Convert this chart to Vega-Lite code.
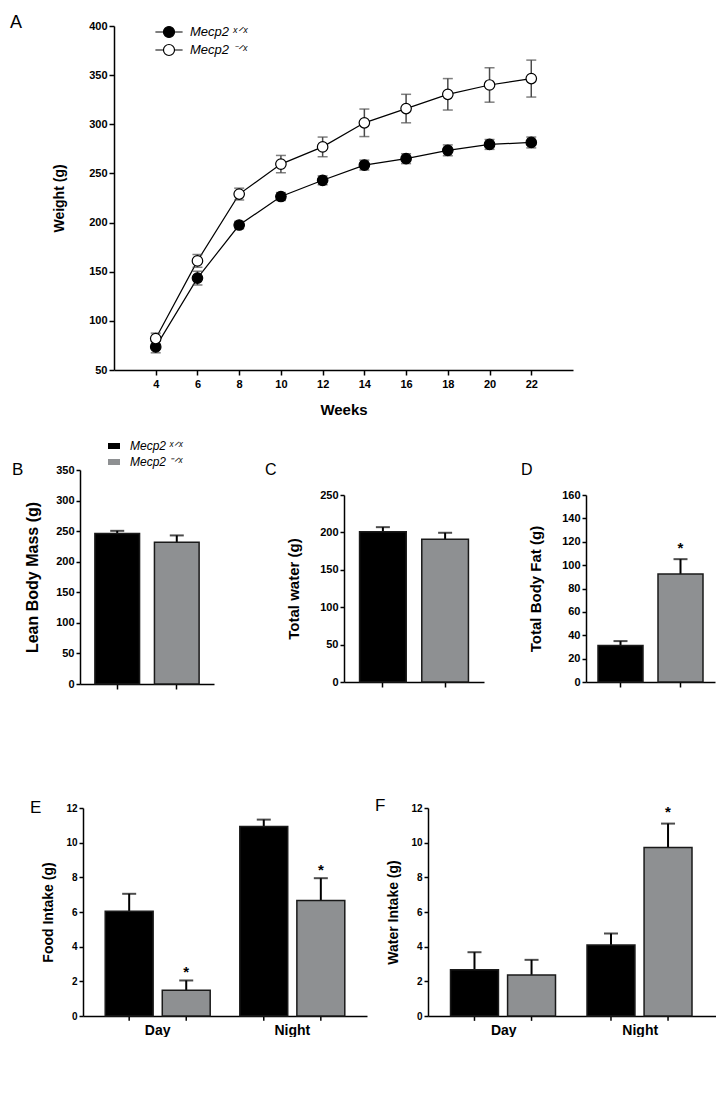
{
  "$schema": "https://vega.github.io/schema/vega-lite/v6.json",
  "background": "white",
  "padding": {"top": 14, "left": 0, "right": 0, "bottom": 0},
  "config": {
    "view": {"stroke": null},
    "font": "Liberation Sans",
    "axis": {"grid": false, "domainColor": "black", "tickColor": "black", "labelColor": "black", "titleColor": "black", "labelFont": "Liberation Sans", "titleFont": "Liberation Sans", "labelFontWeight": "bold", "titleFontWeight": "bold", "domainWidth": 1.5, "tickWidth": 1.5, "labelOverlap": false},
    "title": {"font": "Liberation Sans", "color": "black", "fontWeight": "normal", "subtitleColor": "black", "subtitleFont": "Liberation Sans", "subtitleFontWeight": "normal"},
    "legend": {"labelColor": "black", "labelFont": "Liberation Sans"}
  },
  "datasets": {
    "weights": [
      {"week": 4, "genotype": "x/x", "mean": 73.5, "sem": 6},
      {"week": 6, "genotype": "x/x", "mean": 143.5, "sem": 7},
      {"week": 8, "genotype": "x/x", "mean": 197.5, "sem": 3.7},
      {"week": 10, "genotype": "x/x", "mean": 226.5, "sem": 4},
      {"week": 12, "genotype": "x/x", "mean": 243, "sem": 4.5},
      {"week": 14, "genotype": "x/x", "mean": 258.5, "sem": 5},
      {"week": 16, "genotype": "x/x", "mean": 265, "sem": 5},
      {"week": 18, "genotype": "x/x", "mean": 273.5, "sem": 5.5},
      {"week": 20, "genotype": "x/x", "mean": 279.5, "sem": 5},
      {"week": 22, "genotype": "x/x", "mean": 281.5, "sem": 5.5},
      {"week": 4, "genotype": "-/x", "mean": 82, "sem": 5.5},
      {"week": 6, "genotype": "-/x", "mean": 161, "sem": 6.5},
      {"week": 8, "genotype": "-/x", "mean": 229, "sem": 6},
      {"week": 10, "genotype": "-/x", "mean": 259.5, "sem": 8.8},
      {"week": 12, "genotype": "-/x", "mean": 277, "sem": 10},
      {"week": 14, "genotype": "-/x", "mean": 301.5, "sem": 14},
      {"week": 16, "genotype": "-/x", "mean": 316, "sem": 14.5},
      {"week": 18, "genotype": "-/x", "mean": 330.5, "sem": 16},
      {"week": 20, "genotype": "-/x", "mean": 340, "sem": 17.5},
      {"week": 22, "genotype": "-/x", "mean": 346.5, "sem": 18.8}
    ],
    "lean": [
      {"genotype": "x/x", "mean": 246, "hi": 250.5, "sig": ""},
      {"genotype": "-/x", "mean": 232, "hi": 243, "sig": ""}
    ],
    "water": [
      {"genotype": "x/x", "mean": 201, "hi": 207, "sig": ""},
      {"genotype": "-/x", "mean": 191, "hi": 199.5, "sig": ""}
    ],
    "fat": [
      {"genotype": "x/x", "mean": 31.3, "hi": 35, "sig": ""},
      {"genotype": "-/x", "mean": 92.3, "hi": 105.1, "sig": "*"}
    ],
    "food": [
      {"period": "Day", "genotype": "x/x", "mean": 6.05, "hi": 7.05, "sig": ""},
      {"period": "Day", "genotype": "-/x", "mean": 1.48, "hi": 2.05, "sig": "*"},
      {"period": "Night", "genotype": "x/x", "mean": 10.93, "hi": 11.33, "sig": ""},
      {"period": "Night", "genotype": "-/x", "mean": 6.66, "hi": 7.95, "sig": "*"}
    ],
    "drink": [
      {"period": "Day", "genotype": "x/x", "mean": 2.67, "hi": 3.68, "sig": ""},
      {"period": "Day", "genotype": "-/x", "mean": 2.37, "hi": 3.24, "sig": ""},
      {"period": "Night", "genotype": "x/x", "mean": 4.09, "hi": 4.76, "sig": ""},
      {"period": "Night", "genotype": "-/x", "mean": 9.72, "hi": 11.1, "sig": "*"}
    ],
    "blank": [{"k": 0}]
  },
  "resolve": {"scale": {"fill": "independent"}},
  "spacing": 21,
  "vconcat": [
    {
      "concat": [
        {"width": 1, "height": 1, "data": {"name": "blank"}, "mark": {"type": "point", "opacity": 0, "size": 1, "strokeWidth": 0}, "encoding": {}},
        {
          "width": 459,
          "height": 344,
          "data": {"name": "weights"},
          "title": {"text": "A", "anchor": "start", "frame": "group", "dx": -104, "offset": -12, "fontSize": 18},
          "encoding": {
            "x": {"field": "week", "type": "quantitative", "scale": {"domain": [2, 24], "nice": false, "zero": false},
              "axis": {"values": [4, 6, 8, 10, 12, 14, 16, 18, 20, 22], "title": "Weeks", "titleFontSize": 15, "labelFontSize": 11, "tickSize": 5, "labelPadding": 3, "titlePadding": 13, "labelOverlap": false}}
          },
          "layer": [
            {
              "mark": {"type": "line", "color": "black", "strokeWidth": 1.2},
              "encoding": {
                "y": {"field": "mean", "type": "quantitative", "scale": {"domain": [50, 400], "nice": false, "zero": false},
                  "axis": {"values": [50, 100, 150, 200, 250, 300, 350, 400], "title": "Weight (g)", "titleFontSize": 14, "labelFontSize": 11, "tickSize": 5, "labelPadding": 2, "titlePadding": 22, "labelOverlap": false}},
                "detail": {"field": "genotype"}
              }
            },
            {
              "mark": {"type": "errorbar", "color": "#4a4a4a", "thickness": 1.5, "ticks": {"size": 10}},
              "encoding": {
                "y": {"field": "mean", "type": "quantitative", "title": "Weight (g)",
                  "axis": {"values": [50, 100, 150, 200, 250, 300, 350, 400], "title": "Weight (g)", "titleFontSize": 14, "labelFontSize": 11, "tickSize": 5, "labelPadding": 2, "titlePadding": 22, "labelOverlap": false}},
                "yError": {"field": "sem"},
                "detail": {"field": "genotype"}
              }
            },
            {
              "mark": {"type": "point", "shape": "circle", "filled": true, "size": 110, "stroke": "black", "strokeWidth": 1.2, "opacity": 1},
              "encoding": {
                "y": {"field": "mean", "type": "quantitative", "title": "Weight (g)",
                  "axis": {"values": [50, 100, 150, 200, 250, 300, 350, 400], "title": "Weight (g)", "titleFontSize": 14, "labelFontSize": 11, "tickSize": 5, "labelPadding": 2, "titlePadding": 22, "labelOverlap": false}},
                "fill": {"field": "genotype", "type": "nominal", "scale": {"domain": ["x/x", "-/x"], "range": ["black", "white"]},
                  "legend": {"orient": "none", "legendX": 46, "legendY": -3, "title": null, "padding": 0,
                    "symbolType": "M-1.7,0H-0.69M0.69,0H1.7M0.69,0A0.69,0.69,0,1,1,-0.69,0A0.69,0.69,0,1,1,0.69,0Z",
                    "symbolSize": 256, "symbolStrokeColor": "black", "symbolStrokeWidth": 1.2,
                    "labelFontSize": 13, "labelFontStyle": "italic", "labelOffset": 12, "rowPadding": 1,
                    "labelExpr": "datum.value == 'x/x' ? 'Mecp2 ˣᐟˣ' : 'Mecp2 ⁻ᐟˣ'"}}
              }
            }
          ]
        }
      ],
      "columns": 2,
      "align": "none",
      "spacing": 9,
      "resolve": {"scale": {"fill": "independent"}}
    },
    {
      "spacing": 107,
      "resolve": {"scale": {"fill": "independent"}},
      "vconcat": [
        {
          "concat": [
            {"width": 1, "height": 1, "data": {"name": "blank"}, "mark": {"type": "point", "opacity": 0, "size": 1, "strokeWidth": 0}, "encoding": {}},
            {"width": 1, "height": 1, "data": {"name": "blank"}, "mark": {"type": "point", "opacity": 0, "size": 1, "strokeWidth": 0}, "encoding": {}},
            {"width": 1, "height": 1, "data": {"name": "blank"}, "mark": {"type": "point", "opacity": 0, "size": 1, "strokeWidth": 0}, "encoding": {}},
            {"width": 1, "height": 1, "data": {"name": "blank"}, "mark": {"type": "point", "opacity": 0, "size": 1, "strokeWidth": 0}, "encoding": {}},
            {"width": 1, "height": 1, "data": {"name": "blank"}, "mark": {"type": "point", "opacity": 0, "size": 1, "strokeWidth": 0}, "encoding": {}},
            {
              "width": 134,
              "height": 214,
              "data": {"name": "lean"},
              "title": {"text": "B", "anchor": "start", "frame": "group", "dx": -68, "offset": -40, "fontSize": 17},
              "encoding": {
                "x": {"field": "genotype", "type": "nominal", "sort": ["x/x", "-/x"], "scale": {"paddingInner": 0.25, "paddingOuter": 0.25},
                  "axis": {"labels": false, "title": null, "ticks": true, "tickSize": 5}}
              },
              "layer": [
                {
                  "mark": {"type": "rule", "color": "black", "strokeWidth": 2},
                  "encoding": {
                    "y": {"field": "mean", "type": "quantitative", "scale": {"domain": [0, 350], "nice": false},
                      "axis": {"values": [0, 50, 100, 150, 200, 250, 300, 350], "title": "Lean Body Mass (g)", "titleFontSize": 16, "labelFontSize": 11, "tickSize": 4, "labelPadding": 2, "titlePadding": 15, "labelOverlap": false}},
                    "y2": {"field": "hi"}
                  }
                },
                {
                  "mark": {"type": "tick", "color": "black", "thickness": 2, "size": 14},
                  "encoding": {"y": {"field": "hi", "type": "quantitative",
                    "axis": {"values": [0, 50, 100, 150, 200, 250, 300, 350], "title": "Lean Body Mass (g)", "titleFontSize": 16, "labelFontSize": 11, "tickSize": 4, "labelPadding": 2, "titlePadding": 15, "labelOverlap": false}}}
                },
                {
                  "mark": {"type": "bar", "stroke": "#1a1a1a", "strokeWidth": 1.5},
                  "encoding": {
                    "y": {"field": "mean", "type": "quantitative",
                      "axis": {"values": [0, 50, 100, 150, 200, 250, 300, 350], "title": "Lean Body Mass (g)", "titleFontSize": 16, "labelFontSize": 11, "tickSize": 4, "labelPadding": 2, "titlePadding": 15, "labelOverlap": false}},
                    "fill": {"field": "genotype", "type": "nominal", "scale": {"domain": ["x/x", "-/x"], "range": ["black", "#8e9092"]},
                      "legend": {"orient": "none", "legendX": 27, "legendY": -31, "title": null, "padding": 0,
                        "symbolType": "M-0.86,-0.43H0.86V0.43H-0.86Z", "symbolSize": 196, "symbolStrokeWidth": 0,
                        "labelFontSize": 12, "labelFontStyle": "italic", "labelOffset": 9, "rowPadding": 3,
                        "labelExpr": "datum.value == 'x/x' ? 'Mecp2 ˣᐟˣ' : 'Mecp2 ⁻ᐟˣ'"}}
                  }
                }
              ]
            },
            {"width": 29, "height": 1, "data": {"name": "blank"}, "mark": {"type": "point", "opacity": 0, "size": 1, "strokeWidth": 0}, "encoding": {}},
            {
              "spacing": 37,
              "resolve": {"scale": {"fill": "independent"}},
              "hconcat": [
                {
                  "width": 140,
                  "height": 187,
                  "data": {"name": "water"},
                  "title": {"text": " ", "subtitle": "C", "anchor": "start", "frame": "group", "dx": -79, "offset": 11, "fontSize": 21, "subtitleFontSize": 16, "subtitlePadding": 2},
                  "encoding": {
                    "x": {"field": "genotype", "type": "nominal", "sort": ["x/x", "-/x"], "scale": {"paddingInner": 0.25, "paddingOuter": 0.25},
                      "axis": {"labels": false, "title": null, "ticks": true, "tickSize": 5}}
                  },
                  "layer": [
                    {
                      "mark": {"type": "rule", "color": "black", "strokeWidth": 2},
                      "encoding": {
                        "y": {"field": "mean", "type": "quantitative", "scale": {"domain": [0, 250], "nice": false},
                          "axis": {"values": [0, 50, 100, 150, 200, 250], "title": "Total water (g)", "titleFontSize": 15, "labelFontSize": 11, "tickSize": 4, "labelPadding": 2, "titlePadding": 18, "labelOverlap": false}},
                        "y2": {"field": "hi"}
                      }
                    },
                    {
                      "mark": {"type": "tick", "color": "black", "thickness": 2, "size": 14},
                      "encoding": {"y": {"field": "hi", "type": "quantitative",
                        "axis": {"values": [0, 50, 100, 150, 200, 250], "title": "Total water (g)", "titleFontSize": 15, "labelFontSize": 11, "tickSize": 4, "labelPadding": 2, "titlePadding": 18, "labelOverlap": false}}}
                    },
                    {
                      "mark": {"type": "bar", "stroke": "#1a1a1a", "strokeWidth": 1.5},
                      "encoding": {
                        "y": {"field": "mean", "type": "quantitative",
                          "axis": {"values": [0, 50, 100, 150, 200, 250], "title": "Total water (g)", "titleFontSize": 15, "labelFontSize": 11, "tickSize": 4, "labelPadding": 2, "titlePadding": 18, "labelOverlap": false}},
                        "fill": {"field": "genotype", "type": "nominal", "scale": {"domain": ["x/x", "-/x"], "range": ["black", "#8e9092"]}, "legend": null}
                      }
                    }
                  ]
                },
                {
                  "width": 129,
                  "height": 187,
                  "data": {"name": "fat"},
                  "title": {"text": " ", "subtitle": "D", "anchor": "start", "frame": "group", "dx": -65, "offset": 11, "fontSize": 21, "subtitleFontSize": 16, "subtitlePadding": 2},
                  "encoding": {
                    "x": {"field": "genotype", "type": "nominal", "sort": ["x/x", "-/x"], "scale": {"paddingInner": 0.25, "paddingOuter": 0.2},
                      "axis": {"labels": false, "title": null, "ticks": true, "tickSize": 5}}
                  },
                  "layer": [
                    {
                      "mark": {"type": "rule", "color": "black", "strokeWidth": 2},
                      "encoding": {
                        "y": {"field": "mean", "type": "quantitative", "scale": {"domain": [0, 160], "nice": false},
                          "axis": {"values": [0, 20, 40, 60, 80, 100, 120, 140, 160], "title": "Total Body Fat (g)", "titleFontSize": 15, "labelFontSize": 11, "tickSize": 4, "labelPadding": 2, "titlePadding": 18, "labelOverlap": false}},
                        "y2": {"field": "hi"}
                      }
                    },
                    {
                      "mark": {"type": "tick", "color": "black", "thickness": 2, "size": 14},
                      "encoding": {"y": {"field": "hi", "type": "quantitative",
                        "axis": {"values": [0, 20, 40, 60, 80, 100, 120, 140, 160], "title": "Total Body Fat (g)", "titleFontSize": 15, "labelFontSize": 11, "tickSize": 4, "labelPadding": 2, "titlePadding": 18, "labelOverlap": false}}}
                    },
                    {
                      "mark": {"type": "bar", "stroke": "#1a1a1a", "strokeWidth": 1.5},
                      "encoding": {
                        "y": {"field": "mean", "type": "quantitative",
                          "axis": {"values": [0, 20, 40, 60, 80, 100, 120, 140, 160], "title": "Total Body Fat (g)", "titleFontSize": 15, "labelFontSize": 11, "tickSize": 4, "labelPadding": 2, "titlePadding": 18, "labelOverlap": false}},
                        "fill": {"field": "genotype", "type": "nominal", "scale": {"domain": ["x/x", "-/x"], "range": ["black", "#8e9092"]}, "legend": null}
                      }
                    },
                    {
                      "mark": {"type": "text", "fontSize": 15, "fontWeight": "bold", "baseline": "middle", "dy": -11, "color": "black"},
                      "encoding": {
                        "y": {"field": "hi", "type": "quantitative",
                          "axis": {"values": [0, 20, 40, 60, 80, 100, 120, 140, 160], "title": "Total Body Fat (g)", "titleFontSize": 15, "labelFontSize": 11, "tickSize": 4, "labelPadding": 2, "titlePadding": 18, "labelOverlap": false}},
                        "text": {"field": "sig"}
                      }
                    }
                  ]
                }
              ]
            }
          ],
          "columns": 4,
          "align": "none",
          "spacing": {"row": 0, "column": 11},
          "resolve": {"scale": {"fill": "independent"}}
        },
        {
          "concat": [
            {"width": 22, "height": 1, "data": {"name": "blank"}, "mark": {"type": "point", "opacity": 0, "size": 1, "strokeWidth": 0}, "encoding": {}},
            {
              "width": 284,
              "height": 208,
              "data": {"name": "food"},
              "title": {"text": "E", "anchor": "start", "frame": "group", "dx": -53, "offset": -14, "fontSize": 17},
              "encoding": {
                "x": {"field": "period", "type": "nominal", "sort": ["Day", "Night"], "scale": {"paddingInner": 0.22, "paddingOuter": 0.165},
                  "axis": {"title": null, "ticks": false, "labelAngle": 0, "labelFontSize": 14, "labelPadding": 7}},
                "xOffset": {"field": "genotype", "type": "nominal", "sort": ["x/x", "-/x"], "scale": {"paddingInner": 0.16, "paddingOuter": 0}}
              },
              "layer": [
                {
                  "mark": {"type": "rule", "color": "black", "strokeWidth": 2},
                  "encoding": {
                    "y": {"field": "mean", "type": "quantitative", "scale": {"domain": [0, 12], "nice": false},
                      "axis": {"values": [0, 2, 4, 6, 8, 10, 12], "title": "Food Intake (g)", "titleFontSize": 14, "labelFontSize": 10, "tickSize": 4, "labelPadding": 2, "titlePadding": 10, "labelOverlap": false}},
                    "y2": {"field": "hi"}
                  }
                },
                {
                  "mark": {"type": "tick", "color": "black", "thickness": 2, "size": 14},
                  "encoding": {"y": {"field": "hi", "type": "quantitative",
                    "axis": {"values": [0, 2, 4, 6, 8, 10, 12], "title": "Food Intake (g)", "titleFontSize": 14, "labelFontSize": 10, "tickSize": 4, "labelPadding": 2, "titlePadding": 10, "labelOverlap": false}}}
                },
                {
                  "mark": {"type": "rule", "color": "black", "strokeWidth": 1.5},
                  "encoding": {"y": {"datum": 0, "type": "quantitative",
                    "axis": {"values": [0, 2, 4, 6, 8, 10, 12], "title": "Food Intake (g)", "titleFontSize": 14, "labelFontSize": 10, "tickSize": 4, "labelPadding": 2, "titlePadding": 10, "labelOverlap": false}}, "y2": {"datum": -0.28}}
                },
                {
                  "mark": {"type": "bar", "stroke": "#1a1a1a", "strokeWidth": 1.5},
                  "encoding": {
                    "y": {"field": "mean", "type": "quantitative",
                      "axis": {"values": [0, 2, 4, 6, 8, 10, 12], "title": "Food Intake (g)", "titleFontSize": 14, "labelFontSize": 10, "tickSize": 4, "labelPadding": 2, "titlePadding": 10, "labelOverlap": false}},
                    "fill": {"field": "genotype", "type": "nominal", "scale": {"domain": ["x/x", "-/x"], "range": ["black", "#8e9092"]}, "legend": null}
                  }
                },
                {
                  "mark": {"type": "text", "fontSize": 15, "fontWeight": "bold", "baseline": "middle", "dy": -8, "color": "black"},
                  "encoding": {
                    "y": {"field": "hi", "type": "quantitative",
                      "axis": {"values": [0, 2, 4, 6, 8, 10, 12], "title": "Food Intake (g)", "titleFontSize": 14, "labelFontSize": 10, "tickSize": 4, "labelPadding": 2, "titlePadding": 10, "labelOverlap": false}},
                    "text": {"field": "sig"}
                  }
                }
              ]
            },
            {
              "width": 288,
              "height": 208,
              "data": {"name": "drink"},
              "title": {"text": "F", "anchor": "start", "frame": "group", "dx": -53, "offset": -12, "fontSize": 17},
              "encoding": {
                "x": {"field": "period", "type": "nominal", "sort": ["Day", "Night"], "scale": {"paddingInner": 0.22, "paddingOuter": 0.165},
                  "axis": {"title": null, "ticks": false, "labelAngle": 0, "labelFontSize": 14, "labelPadding": 7}},
                "xOffset": {"field": "genotype", "type": "nominal", "sort": ["x/x", "-/x"], "scale": {"paddingInner": 0.16, "paddingOuter": 0}}
              },
              "layer": [
                {
                  "mark": {"type": "rule", "color": "black", "strokeWidth": 2},
                  "encoding": {
                    "y": {"field": "mean", "type": "quantitative", "scale": {"domain": [0, 12], "nice": false},
                      "axis": {"values": [0, 2, 4, 6, 8, 10, 12], "title": "Water Intake (g)", "titleFontSize": 14, "labelFontSize": 10, "tickSize": 4, "labelPadding": 2, "titlePadding": 10, "labelOverlap": false}},
                    "y2": {"field": "hi"}
                  }
                },
                {
                  "mark": {"type": "tick", "color": "black", "thickness": 2, "size": 14},
                  "encoding": {"y": {"field": "hi", "type": "quantitative",
                    "axis": {"values": [0, 2, 4, 6, 8, 10, 12], "title": "Water Intake (g)", "titleFontSize": 14, "labelFontSize": 10, "tickSize": 4, "labelPadding": 2, "titlePadding": 10, "labelOverlap": false}}}
                },
                {
                  "mark": {"type": "rule", "color": "black", "strokeWidth": 1.5},
                  "encoding": {"y": {"datum": 0, "type": "quantitative",
                    "axis": {"values": [0, 2, 4, 6, 8, 10, 12], "title": "Water Intake (g)", "titleFontSize": 14, "labelFontSize": 10, "tickSize": 4, "labelPadding": 2, "titlePadding": 10, "labelOverlap": false}}, "y2": {"datum": -0.28}}
                },
                {
                  "mark": {"type": "bar", "stroke": "#1a1a1a", "strokeWidth": 1.5},
                  "encoding": {
                    "y": {"field": "mean", "type": "quantitative",
                      "axis": {"values": [0, 2, 4, 6, 8, 10, 12], "title": "Water Intake (g)", "titleFontSize": 14, "labelFontSize": 10, "tickSize": 4, "labelPadding": 2, "titlePadding": 10, "labelOverlap": false}},
                    "fill": {"field": "genotype", "type": "nominal", "scale": {"domain": ["x/x", "-/x"], "range": ["black", "#8e9092"]}, "legend": null}
                  }
                },
                {
                  "mark": {"type": "text", "fontSize": 15, "fontWeight": "bold", "baseline": "middle", "dy": -12, "color": "black"},
                  "encoding": {
                    "y": {"field": "hi", "type": "quantitative",
                      "axis": {"values": [0, 2, 4, 6, 8, 10, 12], "title": "Water Intake (g)", "titleFontSize": 14, "labelFontSize": 10, "tickSize": 4, "labelPadding": 2, "titlePadding": 10, "labelOverlap": false}},
                    "text": {"field": "sig"}
                  }
                }
              ]
            }
          ],
          "columns": 3,
          "align": "none",
          "spacing": 8,
          "resolve": {"scale": {"fill": "independent"}}
        }
      ]
    }
  ]
}
